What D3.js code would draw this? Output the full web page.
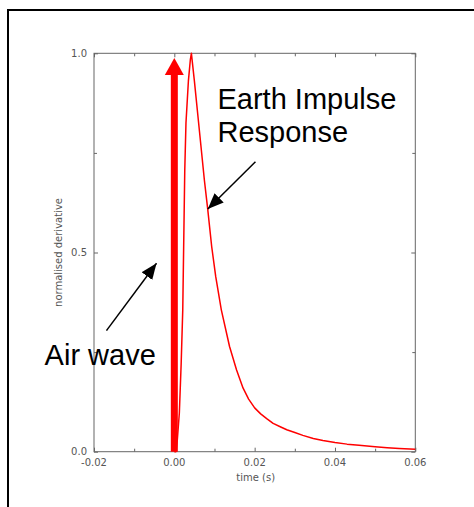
<!DOCTYPE html>
<html lang="en">
<head>
<meta charset="UTF-8">
<title>Earth impulse response</title>
<script src="https://d3js.org/d3.v7.min.js"></script>
<style>
    body {
        margin: 0;
        background: #fff;
    }
    svg text {
        font-family: 'Liberation Sans', Arial, sans-serif;
    }
    .tick-label {
        font-family: 'DejaVu Sans', sans-serif !important;
        font-size: 10px;
        fill: #555;
    }
</style>
</head>
<body>
<div id="chart"></div>
<script>
// impulse response
const times = [0.0, 0.0004, 0.00075, 0.00125, 0.0017, 0.0021, 0.0026, 0.0029, 0.0035, 0.0040, 0.00425,
    0.0050, 0.0060, 0.0075, 0.0083, 0.0093, 0.0103, 0.0117, 0.01375, 0.0155, 0.0171, 0.0185, 0.0200,
    0.0215, 0.0230, 0.0246, 0.0265, 0.0280, 0.0300, 0.0320, 0.0346, 0.0370, 0.0400, 0.0430, 0.0460,
    0.0500, 0.0530, 0.0560, 0.0600];
const values = [0.0, 0.0, 0.03, 0.097, 0.22, 0.356, 0.707, 0.825, 0.93, 0.985, 1.0,
    0.93, 0.83, 0.68, 0.61, 0.515, 0.44, 0.356, 0.264, 0.205, 0.16, 0.132, 0.11,
    0.095, 0.083, 0.071, 0.062, 0.055, 0.048, 0.041, 0.033, 0.028, 0.023, 0.019, 0.016,
    0.0125, 0.010, 0.008, 0.006];

const xMajorTicks = [-0.02, 0.00, 0.02, 0.04, 0.06];
const xMinorTicks = [-0.01, 0.01, 0.03, 0.05];
const yMajorTicks = [0.0, 0.5, 1.0];
const yMinorTicks = [0.25, 0.75];

// air wave spike at t = 0
const airWave = [[0, 0], [0, 0.988]];

// annotations: label lines, text position, arrow tail and tip (data units)
const earthLabel = ["Earth Impulse", "Response"];
const earthText = [0.01075, 0.861];
const earthArrow = [[0.0202, 0.728], [0.00833, 0.609]];
const airLabel = ["Air wave"];
const airText = [-0.0323, 0.218];
const airArrow = [[-0.0169, 0.304], [-0.00443, 0.473]];

const W = 474, H = 507;
const plot = { left: 94, top: 53.3, right: 415.3, bottom: 451.7 };

const svg = d3.select("#chart").append("svg")
    .attr("width", W)
    .attr("height", H);

svg.append("rect").attr("width", W).attr("height", H).attr("fill", "#fff");

// page frame (only left/top edges show)
svg.append("rect")
    .attr("x", 8).attr("y", 10)
    .attr("width", 600).attr("height", 600)
    .attr("fill", "none")
    .attr("stroke", "#000")
    .attr("stroke-width", 2);

const x = d3.scaleLinear().domain([-0.02, 0.06]).range([plot.left, plot.right]);
const y = d3.scaleLinear().domain([0, 1]).range([plot.bottom, plot.top]);

const axisColor = "#666";

// ticks (inside, all four sides)
function ticks(axis, vals, len) {
    const g = svg.append("g").attr("transform",
        axis === "bottom" ? `translate(0,${plot.bottom})` :
        axis === "top" ? `translate(0,${plot.top})` :
        axis === "left" ? `translate(${plot.left},0)` : `translate(${plot.right},0)`);
    const a = (axis === "bottom" ? d3.axisBottom(x) : axis === "top" ? d3.axisTop(x) :
        axis === "left" ? d3.axisLeft(y) : d3.axisRight(y))
        .tickValues(vals).tickSize(-len).tickFormat("");
    g.call(a);
    g.select(".domain").remove();
    g.selectAll("line").attr("stroke", axisColor);
}
["bottom", "top"].forEach(s => { ticks(s, xMajorTicks, 4); ticks(s, xMinorTicks, 3); });
["left", "right"].forEach(s => { ticks(s, yMajorTicks, 4); ticks(s, yMinorTicks, 3); });

svg.append("rect")
    .attr("x", plot.left).attr("y", plot.top)
    .attr("width", plot.right - plot.left)
    .attr("height", plot.bottom - plot.top)
    .attr("fill", "none")
    .attr("stroke", axisColor)
    .attr("stroke-width", 1);

// tick labels
svg.selectAll(".xl").data(xMajorTicks).enter().append("text")
    .attr("class", "tick-label")
    .attr("x", d => x(d))
    .attr("y", plot.bottom + 14)
    .attr("text-anchor", "middle")
    .text(d => d3.format(".2f")(d).replace("−", "-"));

svg.selectAll(".yl").data(yMajorTicks).enter().append("text")
    .attr("class", "tick-label")
    .attr("x", plot.left - 7)
    .attr("y", d => y(d) + 3.5)
    .attr("text-anchor", "end")
    .text(d => d3.format(".1f")(d));

svg.append("text")
    .attr("class", "tick-label")
    .attr("x", (plot.left + plot.right) / 2 + 1)
    .attr("y", plot.bottom + 29)
    .attr("text-anchor", "middle")
    .text("time (s)");

svg.append("text")
    .attr("class", "tick-label")
    .attr("transform", `translate(62,${y(0.5)}) rotate(-90)`)
    .attr("text-anchor", "middle")
    .text("normalised derivative");

// curve
const line = d3.line()
    .x((d, i) => x(times[i]))
    .y(d => y(d));

svg.append("path")
    .datum(values)
    .attr("fill", "none")
    .attr("stroke", "#ff0000")
    .attr("stroke-width", 1.5)
    .attr("stroke-linejoin", "round")
    .attr("d", line);

// arrow head marker for the black annotation arrows
const defs = svg.append("defs");
defs.append("marker")
    .attr("id", "blackHead")
    .attr("viewBox", "0 0 16 13")
    .attr("refX", 16).attr("refY", 6.5)
    .attr("markerWidth", 16).attr("markerHeight", 13)
    .attr("markerUnits", "userSpaceOnUse")
    .attr("orient", "auto")
    .append("path")
    .attr("d", "M0,0L16,6.5L0,13Z")
    .attr("fill", "#000");

// thick red air-wave arrow
const tipY = y(airWave[1][1]);
svg.append("line")
    .attr("x1", x(airWave[0][0])).attr("y1", y(airWave[0][1]))
    .attr("x2", x(airWave[1][0])).attr("y2", tipY + 16)
    .attr("stroke", "#ff0000")
    .attr("stroke-width", 7);
svg.append("path")
    .attr("d", `M${x(0) - 9.5},${tipY + 17}L${x(0)},${tipY}L${x(0) + 9.5},${tipY + 17}Z`)
    .attr("fill", "#ff0000");

// annotation arrows
[earthArrow, airArrow].forEach(a => {
    svg.append("line")
        .attr("x1", x(a[0][0])).attr("y1", y(a[0][1]))
        .attr("x2", x(a[1][0])).attr("y2", y(a[1][1]))
        .attr("stroke", "#000")
        .attr("stroke-width", 1.5)
        .attr("marker-end", "url(#blackHead)");
});

// annotation text
function label(lines, pos) {
    const t = svg.append("text")
        .attr("x", x(pos[0]))
        .attr("y", y(pos[1]))
        .attr("font-size", "29px")
        .attr("fill", "#000");
    lines.forEach((l, i) => {
        t.append("tspan").attr("x", x(pos[0])).attr("dy", i === 0 ? 0 : 33).text(l);
    });
}
label(earthLabel, earthText);
label(airLabel, airText);
</script>
</body>
</html>
